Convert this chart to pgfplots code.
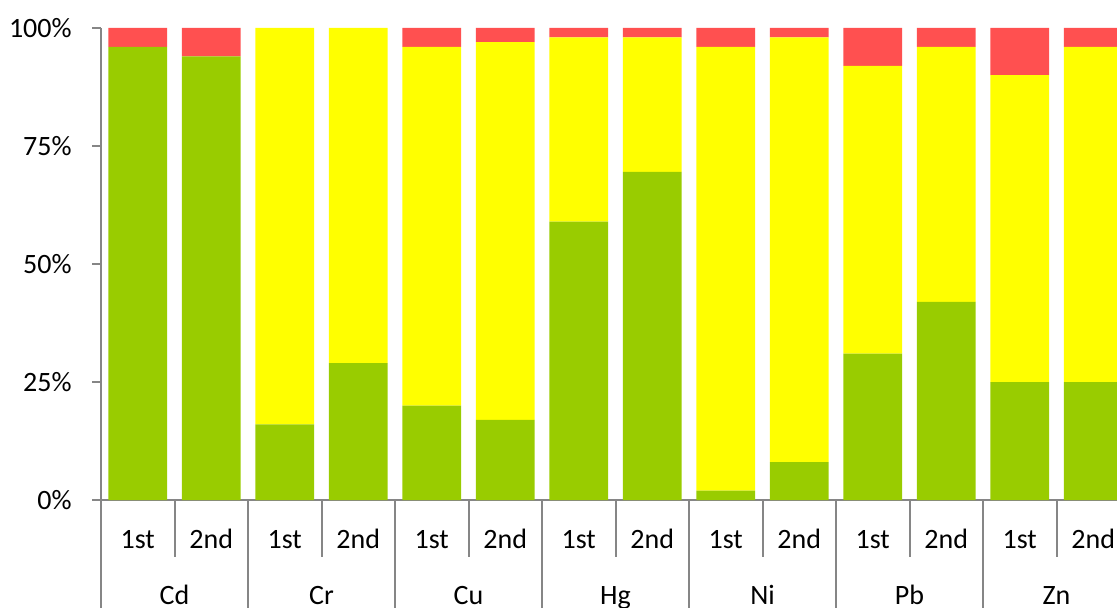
\documentclass[border=0pt]{standalone}
\usepackage{pgfplots}
\pgfplotsset{compat=1.18}
\usepackage{fontspec}
\setmainfont{Carlito}
\definecolor{cgreen}{HTML}{99CC00}
\definecolor{cyellow}{HTML}{FFFF00}
\definecolor{cred}{HTML}{FF5050}
\definecolor{cgray}{HTML}{868686}
\begin{document}
\begin{tikzpicture}
\useasboundingbox (0,0) rectangle (558.5pt,-304pt);
\clip (0,0) rectangle (558.5pt,-304pt);
\begin{axis}[
  at={(50.5pt,-250pt)}, anchor=south west,
  scale only axis, width=514.5pt, height=236pt,
  xmin=-0.5, xmax=13.5, ymin=0, ymax=100,
  ybar stacked, bar width=0.8,
  clip=false,
  axis lines=left,
  axis line style={-, cgray, line width=1pt},
  tick align=outside,
  major tick length=4.5pt,
  ytick={0,25,50,75,100},
  yticklabel={\pgfmathprintnumber{\tick}\%},
  /pgf/number format/assume math mode=true,
  y tick style={cgray, line width=1pt},
  yticklabel style={anchor=east, inner sep=0pt, xshift=-10pt},
  xtick={0,...,13},
  xticklabels={1st,2nd,1st,2nd,1st,2nd,1st,2nd,1st,2nd,1st,2nd,1st,2nd},
  x tick style={draw=none},
  xticklabel style={anchor=base, inner sep=0pt, yshift=-19.5pt},
  extra x ticks={0.5,2.5,4.5,6.5,8.5,10.5,12.5},
  extra x tick labels={Cd,Cr,Cu,Hg,Ni,Pb,Zn},
  extra x tick style={xticklabel style={yshift=-28pt}},
  ticklabel style={font=\fontsize{14pt}{17pt}\selectfont, text=black},
]
\addplot[fill=cgreen, draw=none] coordinates {(0,96) (1,94) (2,16) (3,29) (4,20) (5,17) (6,59) (7,69.5) (8,2) (9,8) (10,31) (11,42) (12,25) (13,25)};
\addplot[fill=cyellow, draw=none] coordinates {(0,0) (1,0) (2,84) (3,71) (4,76) (5,80) (6,39) (7,28.5) (8,94) (9,90) (10,61) (11,54) (12,65) (13,71)};
\addplot[fill=cred, draw=none] coordinates {(0,4) (1,6) (2,0) (3,0) (4,4) (5,3) (6,2) (7,2) (8,4) (9,2) (10,8) (11,4) (12,10) (13,4)};
\pgfplotsinvokeforeach{0.5,2.5,4.5,6.5,8.5,10.5,12.5}{
  \draw[cgray, line width=1pt] (axis cs:#1,0) -- ([yshift=-28.5pt]axis cs:#1,0);
}
\pgfplotsinvokeforeach{-0.5,1.5,3.5,5.5,7.5,9.5,11.5,13.5}{
  \draw[cgray, line width=1pt] (axis cs:#1,0) -- ([yshift=-70pt]axis cs:#1,0);
}
\end{axis}
\end{tikzpicture}
\end{document}
